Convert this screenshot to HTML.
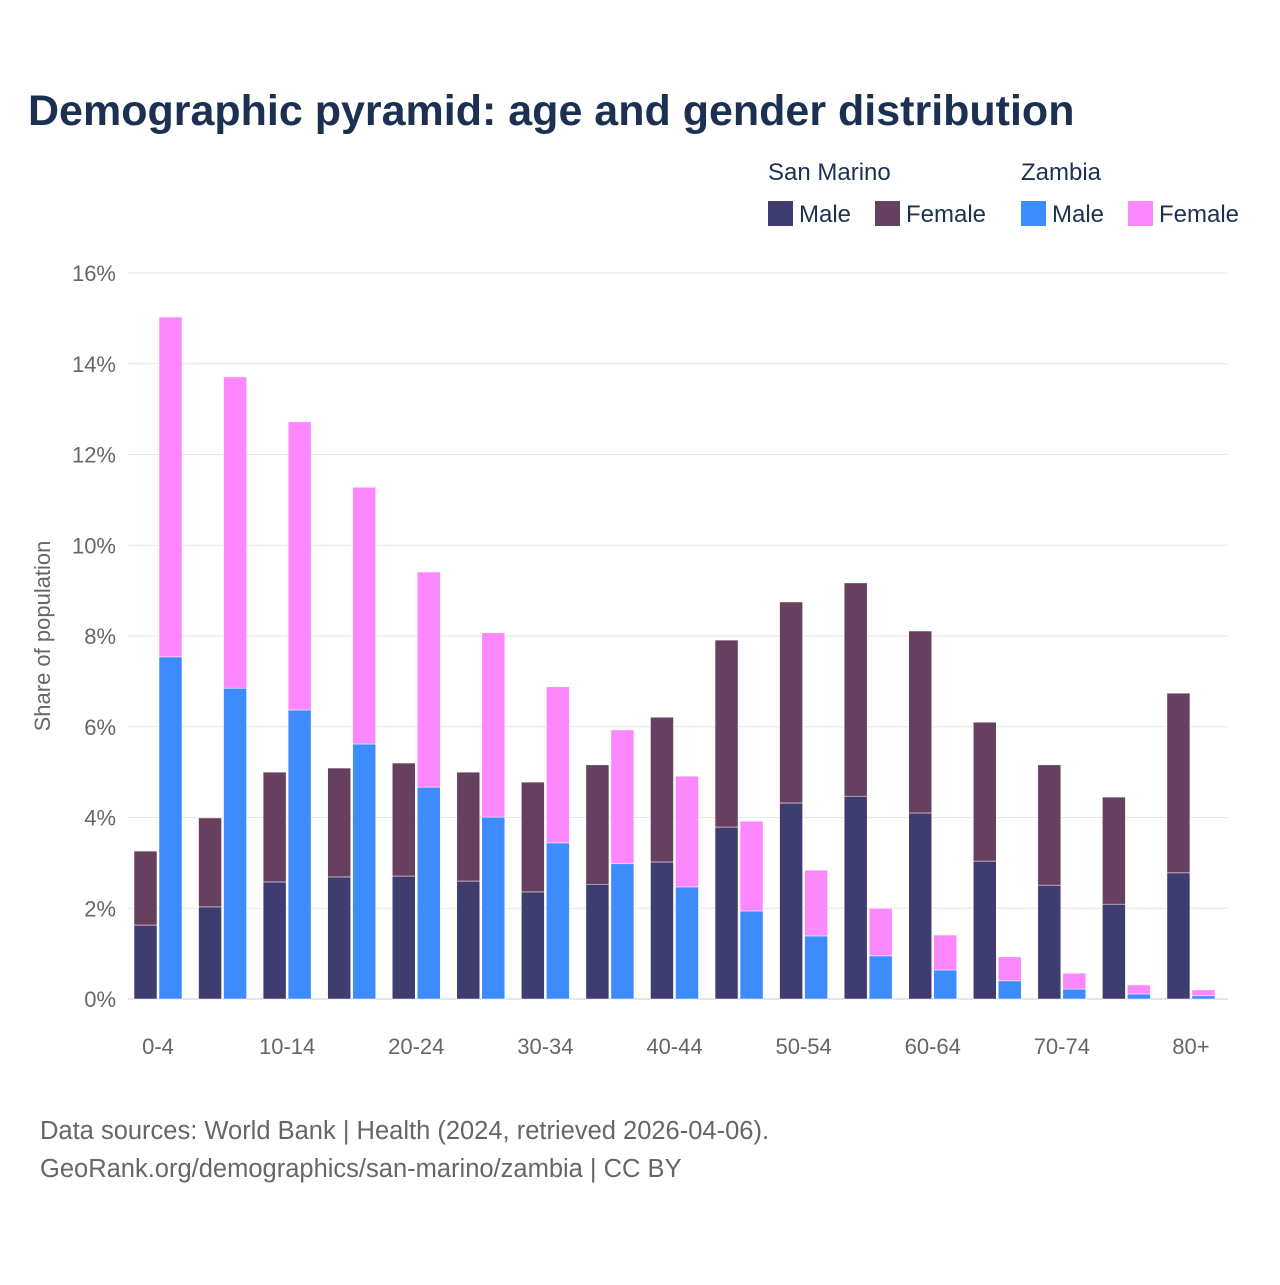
<!DOCTYPE html>
<html><head><meta charset="utf-8"><style>
body{margin:0;background:#fff;font-family:"Liberation Sans",sans-serif;}
</style></head><body>
<svg id="c" width="1280" height="1280" xmlns="http://www.w3.org/2000/svg">
<rect width="1280" height="1280" fill="#fff"/>
<text x="28" y="125" font-size="43" font-weight="bold" fill="#1c3152">Demographic pyramid: age and gender distribution</text>
<g font-size="24" fill="#1c3152">
<text x="768" y="180">San Marino</text>
<text x="1021" y="180">Zambia</text>
<g><rect x="768" y="201" width="25" height="25" fill="#3f3d6f"/><text x="799" y="222">Male</text></g>
<g><rect x="875" y="201" width="25" height="25" fill="#673f5f"/><text x="906" y="222">Female</text></g>
<g><rect x="1021" y="201" width="25" height="25" fill="#3d8bfd"/><text x="1052" y="222">Male</text></g>
<g><rect x="1128" y="201" width="25" height="25" fill="#fd88fd"/><text x="1159" y="222">Female</text></g>
</g>
<text transform="translate(50,636) rotate(-90)" text-anchor="middle" font-size="22" fill="#666">Share of population</text>
<g id="grid"></g><g id="bars"></g><g id="xl"></g>
<text x="40" y="1139" font-size="25.5" fill="#666">Data sources: World Bank | Health (2024, retrieved 2026-04-06).</text>
<text x="40" y="1177" font-size="25.5" fill="#666">GeoRank.org/demographics/san-marino/zambia | CC BY</text>
</svg>
<script>
const categories=["0-4","5-9","10-14","15-19","20-24","25-29","30-34","35-39","40-44","45-49","50-54","55-59","60-64","65-69","70-74","75-79","80+"];
const smMale=[1.63,2.03,2.58,2.69,2.71,2.6,2.36,2.53,3.02,3.79,4.32,4.47,4.1,3.04,2.51,2.09,2.78];
const smFemale=[1.63,1.96,2.42,2.4,2.49,2.4,2.42,2.63,3.19,4.12,4.43,4.7,4.01,3.06,2.65,2.36,3.96];
const zmMale=[7.54,6.85,6.37,5.62,4.67,4.01,3.44,2.98,2.47,1.94,1.39,0.95,0.64,0.4,0.22,0.11,0.07];
const zmFemale=[7.49,6.86,6.35,5.66,4.74,4.06,3.44,2.95,2.44,1.98,1.45,1.05,0.77,0.53,0.35,0.2,0.13];
const yTicks=[0,2,4,6,8,10,12,14,16];
const xLabelIdx=[0,2,4,6,8,10,12,14,16];
const NS="http://www.w3.org/2000/svg";
const y=v=>999-v*45.375;
const cx=i=>158+i*64.56;
function mk(t,a,p){const e=document.createElementNS(NS,t);for(const k in a)e.setAttribute(k,a[k]);p.appendChild(e);return e;}
const grid=document.getElementById('grid'),bars=document.getElementById('bars'),xl=document.getElementById('xl');
yTicks.forEach(t=>{
 const l=mk('line',{x1:128,x2:1228,y1:y(t),y2:y(t),stroke:t===0?'#ccc':'#e6e6e6','stroke-width':1},grid);
 
 
 const tx=mk('text',{x:116,y:y(t)+8,'text-anchor':'end','font-size':22,fill:'#666'},grid);
 tx.textContent=t+'%';
 
 
});
function bar(x,v0,v1,col,name){
 const r=mk('rect',{x:x,y:y(v1),width:23,height:y(v0)-y(v1),fill:col,stroke:'#fff','stroke-width':0.5},bars);
 
 
}
categories.forEach((c,i)=>{
 const x=cx(i);
 bar(x-24,0,smMale[i],'#3f3d6f','bar-sm-male-'+c);
 bar(x-24,smMale[i],smMale[i]+smFemale[i],'#673f5f','bar-sm-female-'+c);
 bar(x+1,0,zmMale[i],'#3d8bfd','bar-zm-male-'+c);
 bar(x+1,zmMale[i],zmMale[i]+zmFemale[i],'#fd88fd','bar-zm-female-'+c);
});
xLabelIdx.forEach(i=>{
 const t=mk('text',{x:cx(i),y:1054,'text-anchor':'middle','font-size':22,fill:'#666'},xl);
 t.textContent=categories[i];
 
 
});
</script>
</body></html>
